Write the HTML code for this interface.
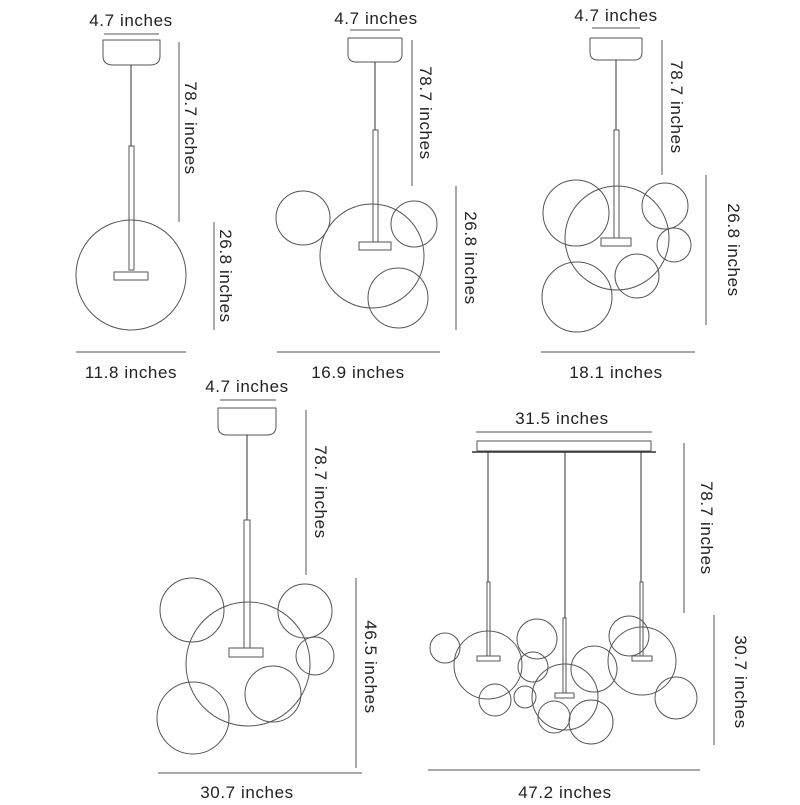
<!DOCTYPE html>
<html><head><style>html,body{margin:0;padding:0;background:#fff}</style></head><body>
<svg width="800" height="800" viewBox="0 0 800 800" xmlns="http://www.w3.org/2000/svg" font-family="Liberation Sans, sans-serif" font-size="17" letter-spacing="0.6" fill="none">
<g stroke="#555" stroke-width="1">
<!-- Panel 1 -->
<line x1="104" y1="34" x2="159" y2="34"/>
<path d="M103 40 H160 V56 Q160 65 150 65 H113 Q103 65 103 56 Z"/>
<line x1="131" y1="65" x2="131" y2="146" stroke="#333"/>
<rect x="129" y="146" width="5" height="124"/>
<circle cx="131" cy="275" r="55"/>
<rect x="114" y="272" width="34" height="8"/>
<line x1="179" y1="42" x2="179" y2="222"/>
<line x1="214" y1="222" x2="214" y2="330"/>
<line x1="76" y1="352" x2="186" y2="352"/>
<!-- Panel 2 -->
<line x1="350" y1="30" x2="400" y2="30"/>
<path d="M348 38 H402 V54 Q402 62 394 62 H356 Q348 62 348 54 Z"/>
<line x1="375" y1="62" x2="375" y2="130" stroke="#333"/>
<rect x="373" y="130" width="5" height="112"/>
<circle cx="372" cy="256" r="52"/>
<circle cx="303" cy="218" r="27"/>
<circle cx="414" cy="224" r="23"/>
<circle cx="398" cy="298" r="30"/>
<rect x="359" y="242" width="32" height="8"/>
<line x1="412" y1="40" x2="412" y2="186"/>
<line x1="456" y1="186" x2="456" y2="330"/>
<line x1="277" y1="352" x2="440" y2="352"/>
<!-- Panel 3 -->
<line x1="592" y1="28" x2="640" y2="28"/>
<path d="M590 38 H642 V52 Q642 60 634 60 H598 Q590 60 590 52 Z"/>
<line x1="616" y1="60" x2="616" y2="130" stroke="#333"/>
<rect x="614" y="130" width="5" height="108"/>
<circle cx="617" cy="238" r="52"/>
<circle cx="576" cy="213" r="33"/>
<circle cx="577" cy="297" r="35"/>
<circle cx="665" cy="206" r="23"/>
<circle cx="674" cy="245" r="17"/>
<circle cx="637" cy="276" r="22"/>
<rect x="601" y="238" width="30" height="8"/>
<line x1="662" y1="40" x2="662" y2="175"/>
<line x1="706" y1="175" x2="706" y2="325"/>
<line x1="541" y1="352" x2="695" y2="352"/>
<!-- Panel 4 -->
<line x1="220" y1="400" x2="276" y2="400"/>
<path d="M218 408 H276 V426 Q276 435 267 435 H227 Q218 435 218 426 Z"/>
<line x1="247" y1="435" x2="247" y2="520" stroke="#333"/>
<rect x="244" y="520" width="6" height="128"/>
<circle cx="248" cy="664" r="62"/>
<circle cx="192" cy="610" r="32"/>
<circle cx="193" cy="718" r="36"/>
<circle cx="305" cy="611" r="27"/>
<circle cx="315" cy="656" r="19"/>
<circle cx="273" cy="694" r="28"/>
<rect x="229" y="648" width="34" height="9"/>
<line x1="306" y1="410" x2="306" y2="575"/>
<line x1="356" y1="578" x2="356" y2="768"/>
<line x1="158" y1="773" x2="362" y2="773"/>
<!-- Panel 5 -->
<line x1="476" y1="432" x2="652" y2="432"/>
<rect x="477" y="441" width="174" height="10"/>
<line x1="472" y1="452" x2="656" y2="452" stroke="#333" stroke-width="1.5"/>
<line x1="488" y1="452" x2="488" y2="582" stroke="#333"/>
<line x1="565" y1="452" x2="565" y2="618" stroke="#333"/>
<line x1="641" y1="452" x2="641" y2="582" stroke="#333"/>
<rect x="487" y="582" width="3" height="74"/>
<rect x="563" y="618" width="3" height="75"/>
<rect x="640" y="582" width="3" height="74"/>
<circle cx="445" cy="648" r="15"/>
<circle cx="488" cy="665" r="34"/>
<circle cx="537" cy="639" r="20"/>
<circle cx="533" cy="667" r="15"/>
<circle cx="495" cy="700" r="16"/>
<circle cx="525" cy="697" r="11"/>
<circle cx="565" cy="697" r="33"/>
<circle cx="554" cy="717" r="16"/>
<circle cx="591" cy="722" r="22"/>
<circle cx="594" cy="669" r="23"/>
<circle cx="642" cy="661" r="34"/>
<circle cx="629" cy="636" r="20"/>
<circle cx="676" cy="698" r="21"/>
<rect x="477" y="656" width="23" height="5"/>
<rect x="555" y="693" width="19" height="5"/>
<rect x="632" y="656" width="20" height="5"/>
<line x1="684" y1="443" x2="684" y2="613"/>
<line x1="714" y1="615" x2="714" y2="745"/>
<line x1="428" y1="770" x2="700" y2="770"/>
</g>
<g fill="#222" text-anchor="middle">
<text x="131" y="26">4.7 inches</text>
<text x="131" y="378">11.8 inches</text>
<text x="376" y="24">4.7 inches</text>
<text x="358" y="378">16.9 inches</text>
<text x="616" y="21">4.7 inches</text>
<text x="616" y="378">18.1 inches</text>
<text x="247" y="392">4.7 inches</text>
<text x="247" y="798">30.7 inches</text>
<text x="562" y="424">31.5 inches</text>
<text x="565" y="798">47.2 inches</text>
<text transform="translate(185,128) rotate(90)">78.7 inches</text>
<text transform="translate(220,276) rotate(90)">26.8 inches</text>
<text transform="translate(420,113) rotate(90)">78.7 inches</text>
<text transform="translate(465,258) rotate(90)">26.8 inches</text>
<text transform="translate(671,107) rotate(90)">78.7 inches</text>
<text transform="translate(728,250) rotate(90)">26.8 inches</text>
<text transform="translate(315,492) rotate(90)">78.7 inches</text>
<text transform="translate(365,667) rotate(90)">46.5 inches</text>
<text transform="translate(701,528) rotate(90)">78.7 inches</text>
<text transform="translate(735,682) rotate(90)">30.7 inches</text>
</g>
</svg>
</body></html>
